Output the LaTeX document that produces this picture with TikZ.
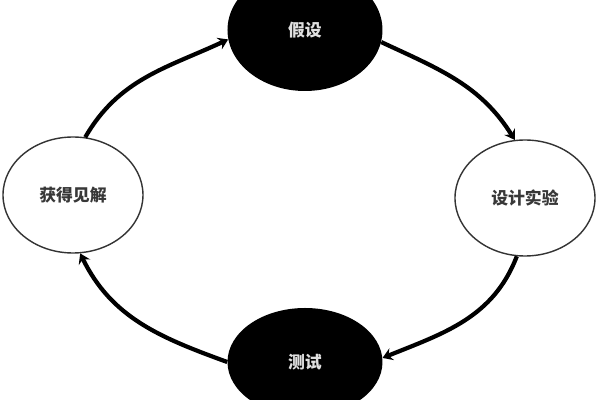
\documentclass[tikz,border=0pt]{standalone}
\usepackage{fontspec}
\usepackage{tikz}
\usetikzlibrary{shapes,arrows.meta}
\newfontfamily\cjk{Noto Sans CJK SC}
\tikzset{%
  >={Stealth[length=7pt,width=9pt,inset=2.5pt]},
  % Specifications for style of nodes:
        phase/.style = {ellipse, minimum width=3.5cm, minimum height=2.9cm,
                        text centered, font=\fontsize{12}{14}\selectfont\cjk\bfseries},
    darkPhase/.style = {phase, fill=black, text=black!12, minimum width=3.875cm},
   lightPhase/.style = {phase, draw=black!80, line width=1pt, fill=white, text=black!78},
   cycleArrow/.style = {->, line width=3pt},
}

\begin{document}
\begin{tikzpicture}[node distance=4.2cm, align=center]
                    \useasboundingbox (-7.625,-9.25) rectangle (7.375,0.75);
                    \clip (-7.625,-9.25) rectangle (7.375,0.75);
                    \node (hyp)   [darkPhase, minimum height=3.05cm]                  {假设};
                    \node (exp)   [lightPhase, below of=hyp, xshift=5.5cm]             {设计实验};
                    \node (test)  [darkPhase, below of=exp, xshift=-5.5cm, yshift=0.1cm,
                                   minimum height=2.7cm]                               {测试};
                    \node (ins)   [lightPhase, below of=hyp, xshift=-5.8cm, yshift=0.075cm] {获得见解};

                    \draw[cycleArrow] (ins.78)   to[out=60,  in=205] (hyp.187);
                    \draw[cycleArrow] (hyp.351)  to[out=-25, in=122] (exp.100);
                    \draw[cycleArrow] (exp.262)  to[out=249, in=22]  (test.3);
                    \draw[cycleArrow] (test.180) to[out=160, in=296] (ins.277);
                \end{tikzpicture}
\end{document}
